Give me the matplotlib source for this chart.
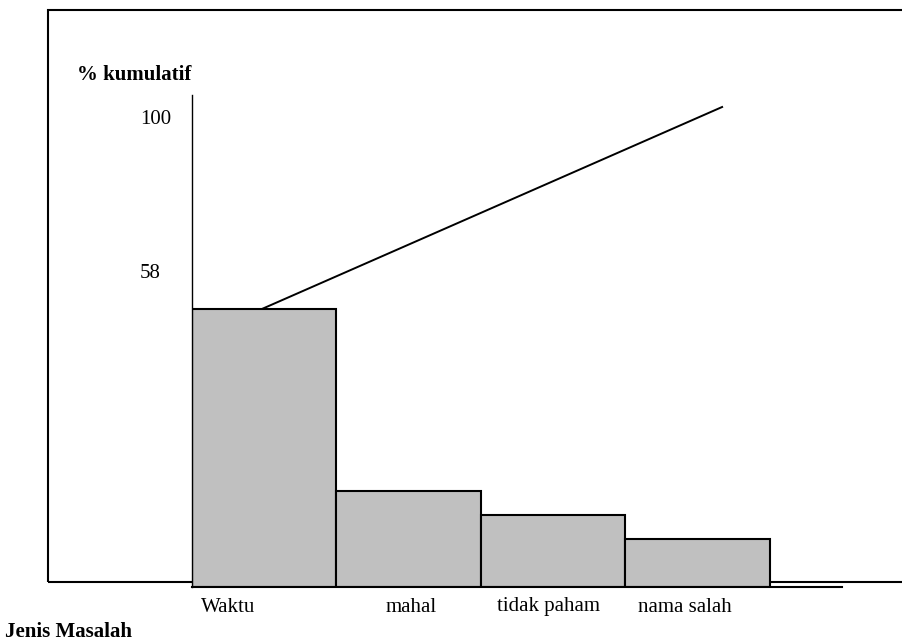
import matplotlib
matplotlib.use("Agg")
import matplotlib.pyplot as plt
from matplotlib.patches import Rectangle

# Data Pareto: jenis masalah dan persentase
kategori = ["Waktu", "mahal", "tidak paham", "nama salah"]
persen = [58, 20, 15, 10]
kumulatif = [58, 100]          # awal dan akhir garis kumulatif
label_sumbu_y = ["100", "58"]
nilai_sumbu_y = [100, 58]

plt.rcParams["font.family"] = ["Liberation Serif", "DejaVu Serif"]
FS = 15

fig = plt.figure(figsize=(9.02, 6.44), dpi=100)
W, H = 902, 644

# bingkai luar (sisi kanan keluar kanvas)
fig.patches.append(Rectangle((48 / W, (H - 582) / H), 1.2, (582 - 10) / H,
                             transform=fig.transFigure, fill=False,
                             edgecolor="black", linewidth=1.5, zorder=-1))

ax = fig.add_axes([192 / W, (H - 587) / H, 650 / W, 492 / H])
ax.patch.set_visible(False)
ax.set_xlim(0, 4.5)
ax.set_ylim(0, 102.5)

x = list(range(len(kategori)))
ax.bar(x, persen, width=1, align="edge", color="#c0c0c0",
       edgecolor="black", linewidth=1.5, zorder=2)

# garis kumulatif dari tengah batang pertama
x_garis = [x[0] + 0.49, x[-1] + 0.67]
ax.plot(x_garis, kumulatif, color="black", linewidth=1.4, zorder=3)

for s in ["top", "right"]:
    ax.spines[s].set_visible(False)
ax.spines["left"].set_linewidth(1.0)
ax.spines["bottom"].set_linewidth(1.5)
ax.set_xticks([])
ax.set_yticks([])

# label sumbu y
geser_y = {100: -13, 58: 35}
for lbl, v in zip(label_sumbu_y, nilai_sumbu_y):
    ax.annotate(lbl, xy=(140, v), xycoords=("figure pixels", "data"),
                xytext=(0, geser_y[v]), textcoords="offset pixels",
                ha="left", va="center", fontsize=FS)

# label kategori di bawah batang
posisi_label = [0.06, 1.34, 2.11, 3.09]
for nama, px in zip(kategori, posisi_label):
    ax.annotate(nama, xy=(px, 0), xytext=(0, -20), textcoords="offset pixels",
                ha="left", va="center", fontsize=FS)

fig.text(77 / W, 1 - 75 / H, "% kumulatif", ha="left", va="center",
         fontsize=FS, fontweight="bold")
fig.text(5 / W, 1 - 632 / H, "Jenis Masalah", ha="left", va="center",
         fontsize=FS, fontweight="bold")

fig.savefig("out.png", dpi=100)
